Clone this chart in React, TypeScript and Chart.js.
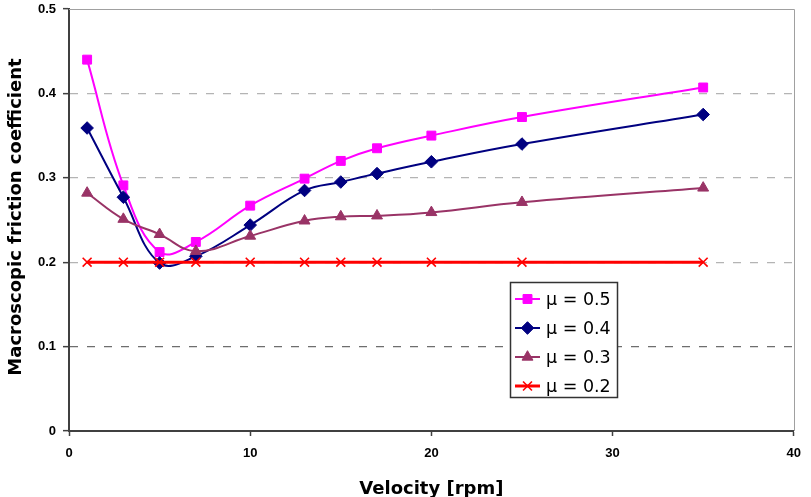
import React, { useEffect, useRef } from "react";
import { Chart, registerables } from "chart.js";
import { drawPoint } from "chart.js/helpers";

Chart.register(...registerables);

// Rotational velocity [rpm]
const velocity = [1, 3, 5, 7, 10, 13, 15, 17, 20, 25, 35];

// Macroscopic friction coefficient for each local friction coefficient
const mu05 = [0.44, 0.291, 0.212, 0.224, 0.267, 0.299, 0.32, 0.335, 0.35, 0.372, 0.407];
const mu04 = [0.359, 0.277, 0.199, 0.207, 0.244, 0.285, 0.295, 0.305, 0.319, 0.34, 0.375];
const mu03 = [0.282, 0.251, 0.233, 0.213, 0.231, 0.249, 0.254, 0.255, 0.259, 0.271, 0.288];
const mu02 = [0.2, 0.2, 0.2, 0.2, 0.2, 0.2, 0.2, 0.2, 0.2, 0.2, 0.2];

const seriesLabels = ["μ = 0.5", "μ = 0.4", "μ = 0.3", "μ = 0.2"];
const seriesColors = ["#FF00FF", "#000080", "#993366", "#FF0000"];
const seriesMarkers = ["rect", "rectRot", "triangle", "crossRot"];

const xTitle = "Velocity [rpm]";
const yTitle = "Macroscopic friction coefficient";

const FONT = "'DejaVu Sans', Verdana, sans-serif";
const TICK_FONT = "'Liberation Sans', Arial, sans-serif";

const toPoints = (ys: number[]) => velocity.map((x, i) => ({ x, y: ys[i] }));

// light frame on the top and right edges of the plot area
const framePlugin = {
  id: "frame",
  beforeDatasetsDraw(chart: any) {
    const { ctx, chartArea: a } = chart;
    ctx.save();
    ctx.strokeStyle = "#a0a0a0";
    ctx.lineWidth = 1;
    ctx.beginPath();
    ctx.moveTo(a.left, Math.round(a.top) + 0.5);
    ctx.lineTo(Math.round(a.right) + 0.5, Math.round(a.top) + 0.5);
    ctx.lineTo(Math.round(a.right) + 0.5, a.bottom);
    ctx.stroke();
    ctx.restore();
  },
};

// axis titles
const titlesPlugin = {
  id: "axisTitles",
  afterDraw(chart: any) {
    const { ctx, chartArea: a } = chart;
    ctx.save();
    ctx.fillStyle = "#000";
    ctx.font = `bold 18px ${FONT}`;
    ctx.textAlign = "center";
    ctx.textBaseline = "alphabetic";
    ctx.fillText(xTitle, (a.left + a.right) / 2, 494);
    ctx.translate(21, (a.top + a.bottom) / 2 - 3);
    ctx.rotate(-Math.PI / 2);
    ctx.fillText(yTitle, 0, 0);
    ctx.restore();
  },
};

// boxed legend inside the plot area
const legendPlugin = {
  id: "boxLegend",
  afterDraw(chart: any) {
    const { ctx } = chart;
    const box = { x: 510.5, y: 282.5, w: 107, h: 115 };
    ctx.save();
    ctx.fillStyle = "#fff";
    ctx.fillRect(box.x, box.y, box.w, box.h);
    ctx.strokeStyle = "#333";
    ctx.lineWidth = 1.5;
    ctx.strokeRect(box.x, box.y, box.w, box.h);
    chart.data.datasets.forEach((ds: any, i: number) => {
      const y = 299 + i * 29;
      ctx.strokeStyle = ds.borderColor;
      ctx.lineWidth = ds.borderWidth;
      ctx.beginPath();
      ctx.moveTo(515, y);
      ctx.lineTo(540, y);
      ctx.stroke();
      ctx.fillStyle = ds.pointBackgroundColor;
      ctx.strokeStyle = ds.pointBorderColor;
      ctx.lineWidth = ds.pointBorderWidth;
      drawPoint(ctx, { pointStyle: ds.pointStyle, radius: ds.pointRadius, rotation: 0, borderWidth: ds.pointBorderWidth }, 527.5, y);
      ctx.fillStyle = "#000";
      ctx.font = `17.5px ${FONT}`;
      ctx.textAlign = "left";
      ctx.textBaseline = "middle";
      ctx.fillText(ds.label, 546, y + 1);
    });
    ctx.restore();
  },
};

export default function App() {
  const canvasRef = useRef<HTMLCanvasElement | null>(null);

  useEffect(() => {
    const canvas = canvasRef.current;
    if (!canvas) return;

    const series = [mu05, mu04, mu03, mu02];
    const datasets = series.map((ys, i) => ({
      label: seriesLabels[i],
      data: toPoints(ys),
      borderColor: seriesColors[i],
      backgroundColor: seriesColors[i],
      pointBackgroundColor: seriesColors[i],
      pointBorderColor: seriesColors[i],
      pointStyle: seriesMarkers[i],
      pointRadius: 6.3,
      pointBorderWidth: i === 3 ? 1.6 : 1,
      borderWidth: i === 3 ? 3 : 2,
      tension: i === 3 ? 0 : 0.4,
      order: 3 - i,
      clip: false as any,
    }));

    const chart = new Chart(canvas, {
      type: "line",
      data: { datasets },
      plugins: [framePlugin, legendPlugin, titlesPlugin],
      options: {
        animation: false,
        responsive: false,
        devicePixelRatio: 1,
        layout: { padding: { left: 0, top: 9, right: 13, bottom: 0 } },
        plugins: { legend: { display: false }, tooltip: { enabled: false } },
        scales: {
          x: {
            type: "linear",
            min: 0,
            max: 40,
            afterFit: (s: any) => { s.height = 66; },
            ticks: {
              stepSize: 10,
              padding: 10,
              color: "#000",
              font: { family: TICK_FONT, size: 13, weight: "bold" },
              maxRotation: 0,
            },
            grid: {
              drawOnChartArea: false,
              drawTicks: true,
              tickLength: 5,
              tickColor: "#404040",
              tickWidth: 1.5,
            },
            border: { color: "#404040", width: 2 },
          },
          y: {
            type: "linear",
            min: 0,
            max: 0.5,
            afterFit: (s: any) => {
              s.width = 69;
              s.paddingTop = 0;
              s.paddingBottom = 0;
            },
            ticks: {
              stepSize: 0.1,
              padding: 7,
              color: "#000",
              font: { family: TICK_FONT, size: 13, weight: "bold" },
              callback: (v: any) => (Number(v) === 0 ? "0" : Number(v).toFixed(1)),
            },
            grid: {
              color: (c: any) => {
                const v = c.tick ? Math.round(c.tick.value * 10) : -1;
                if (v === 0 || v === 5) return "rgba(0,0,0,0)";
                if (v === 1) return "#6e6e6e";
                return "#b4b4b4";
              },
              lineWidth: 1.3,
              drawTicks: true,
              tickLength: 6,
              tickColor: "#404040",
              tickWidth: 1.5,
            },
            border: { color: "#404040", width: 2, dash: [8, 9] },
          },
        },
      },
    } as any);

    return () => chart.destroy();
  }, []);

  return (
    <div style={{ position: "fixed", left: 0, top: 0, width: 811, height: 497, background: "#fff" }}>
      <canvas ref={canvasRef} width={811} height={497} style={{ display: "block" }} />
    </div>
  );
}
